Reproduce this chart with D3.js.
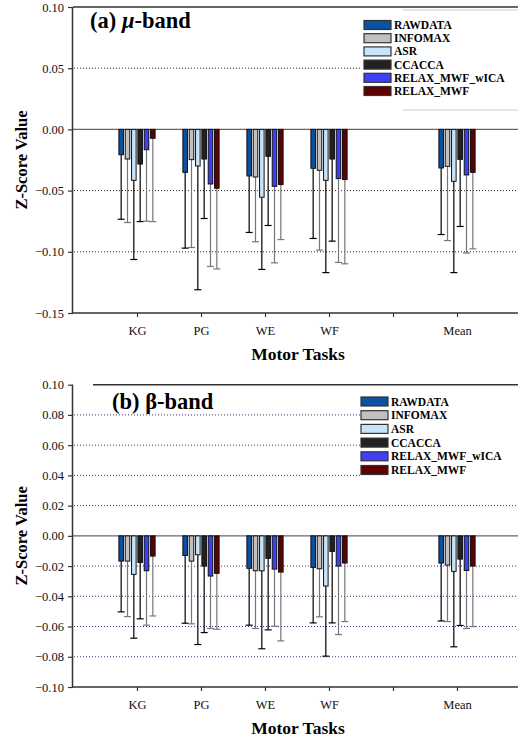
<!DOCTYPE html>
<html lang="en">
<head>
<meta charset="UTF-8">
<title>Z-Score by Motor Task</title>
<script src="https://d3js.org/d3.v7.min.js"></script>
<style>
    body { margin: 0; background: #fff; }
    svg { display: block; }
    svg text { font-family: "Liberation Serif", "Times New Roman", "DejaVu Serif", serif; }
</style>
</head>
<body>
<svg id="chart" width="518" height="738"></svg>
<script>
// categories on the x axis ("" is the empty slot before Mean)
const tasks = ["KG", "PG", "WE", "WF", "", "Mean"];
const taskKeys = ["KG", "PG", "WE", "WF", "Mean"];
const methods = ["RAWDATA", "INFOMAX", "ASR", "CCACCA", "RELAX_MWF_wICA", "RELAX_MWF"];
const methodColors = ["#0b52a0", "#c0c0c0", "#c8e4f8", "#222222", "#3f3ff5", "#5e0000"];
const whiskerColors = ["#000", "#777", "#000", "#000", "#777", "#777"];

// (a) mu-band: means and SD per method, over KG, PG, WE, WF, Mean
const muMeans = [
    [-0.0207, -0.0351, -0.0380, -0.0318, -0.0315],
    [-0.0242, -0.0247, -0.0389, -0.0334, -0.0302],
    [-0.0416, -0.0299, -0.0554, -0.0416, -0.0424],
    [-0.0283, -0.0242, -0.0220, -0.0242, -0.0245],
    [-0.0166, -0.0446, -0.0465, -0.0402, -0.0372],
    [-0.0073, -0.0481, -0.0451, -0.0410, -0.0351]
];
const muSD = [
    [0.0527, 0.0619, 0.0462, 0.0573, 0.0544],
    [0.0519, 0.0718, 0.0529, 0.0652, 0.0606],
    [0.0647, 0.1011, 0.0590, 0.0754, 0.0746],
    [0.0470, 0.0486, 0.0565, 0.0671, 0.0548],
    [0.0584, 0.0674, 0.0625, 0.0685, 0.0638],
    [0.0680, 0.0659, 0.0449, 0.0688, 0.0625]
];
const muTicks = [0.10, 0.05, 0.00, -0.05, -0.10, -0.15];

// (b) beta-band
const betaMeans = [
    [-0.0167, -0.0130, -0.0215, -0.0209, -0.0180],
    [-0.0167, -0.0167, -0.0231, -0.0218, -0.0193],
    [-0.0255, -0.0125, -0.0231, -0.0332, -0.0235],
    [-0.0176, -0.0200, -0.0149, -0.0103, -0.0154],
    [-0.0231, -0.0266, -0.0220, -0.0200, -0.0229],
    [-0.0134, -0.0248, -0.0240, -0.0180, -0.0200]
];
const betaSD = [
    [0.0336, 0.0448, 0.0376, 0.0367, 0.0383],
    [0.0367, 0.0415, 0.0382, 0.0318, 0.0374],
    [0.0422, 0.0594, 0.0516, 0.0464, 0.0499],
    [0.0373, 0.0440, 0.0473, 0.0473, 0.0439],
    [0.0360, 0.0347, 0.0378, 0.0453, 0.0384],
    [0.0396, 0.0370, 0.0455, 0.0387, 0.0400]
];
const betaTicks = [0.10, 0.08, 0.06, 0.04, 0.02, 0.00, -0.02, -0.04, -0.06, -0.08, -0.10];

const serif = '"Liberation Serif", "Times New Roman", "DejaVu Serif", serif';
const svg = d3.select("#chart");

function drawPanel(opt) {
    const x = d3.scalePoint().domain(tasks).range([73, 521]).padding(1);
    const y = d3.scaleLinear().domain([opt.ticks[opt.ticks.length - 1], opt.ticks[0]])
        .range([opt.bottom, opt.top]);
    const inner = d3.scaleBand().domain(methods).range([-19, 19])
        .paddingInner(0.28).paddingOuter(0.14);

    const g = svg.append("g");

    // grid lines
    g.selectAll(".grid").data(opt.ticks.filter(t => t !== 0 && t !== opt.ticks[0] && t !== opt.ticks[opt.ticks.length - 1]))
        .join("line")
        .attr("x1", 74).attr("x2", 518)
        .attr("y1", d => y(d)).attr("y2", d => y(d))
        .attr("stroke", opt.gridColor).attr("stroke-width", 1)
        .attr("stroke-dasharray", "1,2");

    // white legend background that hides the grid
    g.append("rect")
        .attr("x", opt.legendBox[0]).attr("y", opt.legendBox[1])
        .attr("width", 518 - opt.legendBox[0]).attr("height", opt.legendBox[2])
        .attr("fill", "#fff");
    if (opt.legendEdges) {
        [opt.legendBox[1], opt.legendBox[1] + opt.legendBox[2]].forEach(yy => {
            g.append("line").attr("x1", 403).attr("x2", 518)
                .attr("y1", yy).attr("y2", yy)
                .attr("stroke", "#ccc").attr("stroke-width", 1);
        });
    }

    // zero line
    g.append("line").attr("x1", 73).attr("x2", 518)
        .attr("y1", y(0)).attr("y2", y(0))
        .attr("stroke", "#666").attr("stroke-width", 1.2);

    // top frame line
    g.append("line").attr("x1", opt.frameStart).attr("x2", 518)
        .attr("y1", y(opt.ticks[0])).attr("y2", y(opt.ticks[0]))
        .attr("stroke", "#333").attr("stroke-width", 1.5);

    // bars and error bars
    methods.forEach((m, mi) => {
        const rows = taskKeys.map((t, ti) => ({ task: t, mean: opt.means[mi][ti], sd: opt.sd[mi][ti] }));
        const cx = d => x(d.task) + inner(m) + inner.bandwidth() / 2;

        g.selectAll(".err" + mi).data(rows).join("line")
            .attr("x1", cx).attr("x2", cx)
            .attr("y1", d => y(d.mean)).attr("y2", d => y(d.mean - d.sd))
            .attr("stroke", whiskerColors[mi]).attr("stroke-width", 1.2);
        g.selectAll(".cap" + mi).data(rows).join("line")
            .attr("x1", d => cx(d) - 3.5).attr("x2", d => cx(d) + 3.5)
            .attr("y1", d => y(d.mean - d.sd)).attr("y2", d => y(d.mean - d.sd))
            .attr("stroke", whiskerColors[mi]).attr("stroke-width", 1.2);

        g.selectAll(".bar" + mi).data(rows).join("rect")
            .attr("x", d => x(d.task) + inner(m))
            .attr("y", y(0))
            .attr("width", inner.bandwidth())
            .attr("height", d => y(d.mean) - y(0))
            .attr("fill", methodColors[mi])
            .attr("stroke", "#111").attr("stroke-width", 1);
    });

    // axes
    const ya = g.append("g").attr("transform", "translate(73,0)")
        .call(d3.axisLeft(y).tickValues(opt.ticks).tickFormat(d3.format(".2f")).tickSize(5).tickPadding(4));
    const xa = g.append("g").attr("transform", `translate(0,${opt.bottom})`)
        .call(d3.axisBottom(x).tickSize(4).tickPadding(9).tickSizeOuter(0));
    [ya, xa].forEach(a => {
        a.attr("font-family", null);
        a.select(".domain").attr("stroke", "#333").attr("stroke-width", 1.5);
        a.selectAll(".tick line").attr("stroke", "#333").attr("stroke-width", 1.2);
        a.selectAll("text").style("font-family", serif)
            .style("font-size", "12.5px").attr("fill", "#111");
    });
    ya.select(".domain").attr("d", `M-0.5,${opt.bottom}V${opt.top}`);
    xa.select(".domain").attr("d", `M73,0H518`);

    // axis titles
    g.append("text")
        .attr("transform", `translate(27,${(opt.top + opt.bottom) / 2}) rotate(-90)`)
        .attr("text-anchor", "middle")
        .style("font-family", serif)
        .style("font-size", "16.5px").style("font-weight", "bold")
        .text("Z-Score Value");
    g.append("text")
        .attr("x", 298).attr("y", opt.bottom + 47)
        .attr("text-anchor", "middle")
        .style("font-family", serif)
        .style("font-size", "17.5px").style("font-weight", "bold")
        .text("Motor Tasks");

    // panel title
    const title = g.append("text")
        .attr("x", opt.titleX).attr("y", opt.titleY)
        .style("font-family", serif)
        .style("font-size", "22.5px").style("font-weight", "bold");
    title.append("tspan").text(opt.titleA);
    title.append("tspan").style("font-style", opt.titleItalic ? "italic" : "normal").text(opt.titleSym);
    title.append("tspan").text("-band");

    // legend
    const leg = g.append("g");
    methods.forEach((m, mi) => {
        const ly = opt.legendY + mi * opt.legendStep;
        leg.append("rect")
            .attr("x", opt.legendX).attr("y", ly - 4.5)
            .attr("width", 27).attr("height", 9)
            .attr("fill", methodColors[mi])
            .attr("stroke", "#333").attr("stroke-width", 1.2);
        leg.append("text")
            .attr("x", opt.legendX + 30).attr("y", ly + 4)
            .style("font-family", serif)
            .style("font-size", "11.5px").style("font-weight", "bold")
            .text(m);
    });
}

drawPanel({
    top: 7, bottom: 313, ticks: muTicks, means: muMeans, sd: muSD,
    gridColor: "#222", legendBox: [362, 10, 100], legendEdges: true, frameStart: 73,
    titleA: "(a) ", titleSym: "\u03bc", titleItalic: true, titleX: 90, titleY: 28,
    legendX: 364, legendY: 25, legendStep: 13.2
});

drawPanel({
    top: 384.7, bottom: 687, ticks: betaTicks, means: betaMeans, sd: betaSD,
    gridColor: "#4b2a80", legendBox: [360, 392, 92], legendEdges: false, frameStart: 93,
    titleA: "(b) ", titleSym: "\u03b2", titleItalic: false, titleX: 112, titleY: 409,
    legendX: 361, legendY: 401.5, legendStep: 13.7
});
</script>
</body>
</html>
